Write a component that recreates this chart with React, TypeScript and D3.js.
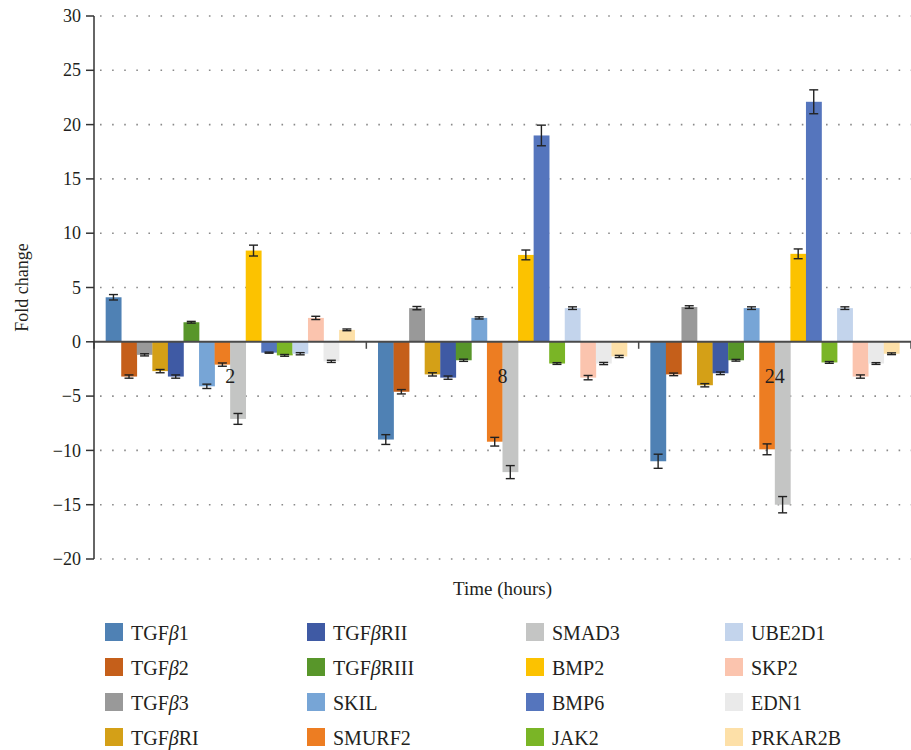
import React from "react";
import * as d3 from "d3";

const groups = ["2", "8", "24"];
const seriesNames = [
  "TGFβ1", "TGFβ2", "TGFβ3", "TGFβRI", "TGFβRII", "TGFβRIII", "SKIL", "SMURF2",
  "SMAD3", "BMP2", "BMP6", "JAK2", "UBE2D1", "SKP2", "EDN1", "PRKAR2B",
];
const seriesColors = [
  "#4f81b4", "#c55f1a", "#999999", "#d4a017", "#3f5aa4", "#58962a", "#77a5d6", "#ed7d22",
  "#c4c5c4", "#fcc200", "#5575bd", "#7ab526", "#c3d4ec", "#fbc4ae", "#eaeaea", "#fde0a8",
];
// values per series: [2h, 8h, 24h]
const values = [
  [4.1, -9.0, -11.0],
  [-3.2, -4.6, -3.0],
  [-1.2, 3.1, 3.2],
  [-2.7, -3.0, -4.0],
  [-3.2, -3.3, -2.9],
  [1.8, -1.7, -1.7],
  [-4.1, 2.2, 3.1],
  [-2.1, -9.2, -9.9],
  [-7.1, -12.0, -15.0],
  [8.4, 8.0, 8.1],
  [-1.0, 19.0, 22.1],
  [-1.25, -2.0, -1.9],
  [-1.1, 3.1, 3.1],
  [2.2, -3.3, -3.2],
  [-1.8, -2.0, -2.0],
  [1.1, -1.35, -1.1],
];
const errors = [
  [0.25, 0.45, 0.65],
  [0.15, 0.2, 0.12],
  [0.1, 0.15, 0.12],
  [0.15, 0.15, 0.15],
  [0.15, 0.15, 0.12],
  [0.08, 0.1, 0.08],
  [0.2, 0.1, 0.12],
  [0.15, 0.4, 0.5],
  [0.5, 0.6, 0.75],
  [0.5, 0.45, 0.45],
  [0.05, 0.95, 1.1],
  [0.08, 0.08, 0.08],
  [0.1, 0.12, 0.12],
  [0.15, 0.2, 0.15],
  [0.1, 0.1, 0.08],
  [0.08, 0.1, 0.08],
];
const yTicks = [-20, -15, -10, -5, 0, 5, 10, 15, 20, 25, 30];
const yLabel = "Fold change";
const xLabel = "Time (hours)";

const W = 911;
const H = 750;
const FONT = "'Liberation Serif', 'Times New Roman', serif";
const TEXT = "#231f20";

export default function App() {
  const left = 94;
  const right = 911;
  const top = 16;
  const bottom = 559;

  const y = d3.scaleLinear().domain([-20, 30]).range([bottom, top]);
  const x0 = d3.scaleBand<string>().domain(groups).range([left, right]).padding(0);
  const x1 = d3
    .scaleBand<string>()
    .domain(seriesNames)
    .range([0, x0.bandwidth()])
    .paddingInner(0)
    .paddingOuter(0.75);

  const y0 = y(0);
  const capW = 9;
  const legendCols = [105, 307, 526, 725];
  const legendRow0 = 623;
  const legendRowStep = 35;

  return (
    <svg
      width={W}
      height={H}
      style={{ position: "absolute", left: 0, top: 0, background: "#fff" }}
      fontFamily={FONT}
    >
      {/* grid */}
      {yTicks.map((t) =>
        t === 0 ? null : (
          <line
            key={"g" + t}
            x1={left + 6}
            x2={right}
            y1={y(t)}
            y2={y(t)}
            stroke="#8a8a8a"
            strokeWidth={1.6}
            strokeDasharray="1.6,10.5"
          />
        )
      )}
      {/* bars */}
      {groups.map((g, gi) =>
        seriesNames.map((s, si) => {
          const v = values[si][gi];
          const bx = (x0(g) as number) + (x1(s) as number);
          const bw = x1.bandwidth();
          return (
            <rect
              key={g + s}
              x={bx}
              width={bw + 0.3}
              y={Math.min(y(v), y0)}
              height={Math.abs(y(v) - y0)}
              fill={seriesColors[si]}
            />
          );
        })
      )}
      {/* zero line */}
      <line x1={left} x2={right} y1={y0} y2={y0} stroke="#4a4a4a" strokeWidth={2} />
      {/* x ticks at group boundaries */}
      {[...groups.map((g) => x0(g) as number), right].map((xv, i) => (
        <line key={"xt" + i} x1={xv} x2={xv} y1={y0} y2={y0 + 7} stroke="#4a4a4a" strokeWidth={1.5} />
      ))}
      {/* error bars */}
      {groups.map((g, gi) =>
        seriesNames.map((s, si) => {
          const v = values[si][gi];
          const e = errors[si][gi];
          const cx = (x0(g) as number) + (x1(s) as number) + x1.bandwidth() / 2;
          const ya = y(v + e);
          const yb = y(v - e);
          return (
            <g key={"e" + g + s} stroke="#222" strokeWidth={1.4}>
              <line x1={cx} x2={cx} y1={ya} y2={yb} />
              <line x1={cx - capW / 2} x2={cx + capW / 2} y1={ya} y2={ya} />
              <line x1={cx - capW / 2} x2={cx + capW / 2} y1={yb} y2={yb} />
            </g>
          );
        })
      )}
      {/* group labels */}
      {groups.map((g) => (
        <text
          key={"gl" + g}
          x={(x0(g) as number) + x0.bandwidth() / 2}
          y={383}
          textAnchor="middle"
          fontSize={20}
          fill={TEXT}
        >
          {g}
        </text>
      ))}
      {/* y axis */}
      <line x1={left} x2={left} y1={top} y2={bottom} stroke="#333" strokeWidth={1.5} />
      {yTicks.map((t) => (
        <g key={"yt" + t}>
          <line x1={left - 8} x2={left} y1={y(t)} y2={y(t)} stroke="#333" strokeWidth={1.5} />
          <text x={left - 13} y={y(t)} dy="0.34em" textAnchor="end" fontSize={18} fill={TEXT}>
            {t < 0 ? "\u2212" + Math.abs(t) : String(t)}
          </text>
        </g>
      ))}
      <text
        transform={`translate(28,${(top + bottom) / 2}) rotate(-90)`}
        textAnchor="middle"
        fontSize={18}
        fill={TEXT}
      >
        {yLabel}
      </text>
      <text x={(left + right) / 2} y={595} textAnchor="middle" fontSize={19} fill={TEXT}>
        {xLabel}
      </text>
      {/* legend */}
      {seriesNames.map((s, si) => {
        const col = Math.floor(si / 4);
        const row = si % 4;
        const lx = legendCols[col];
        const ly = legendRow0 + row * legendRowStep;
        return (
          <g key={"lg" + s}>
            <rect x={lx} y={ly} width={18} height={18} fill={seriesColors[si]} />
            <text x={lx + 26} y={ly + 17} fontSize={20} fill={TEXT}>
              {s.includes("β") ? (
                <>
                  {s.split("β")[0]}
                  <tspan fontStyle="italic">β</tspan>
                  {s.split("β")[1]}
                </>
              ) : (
                s
              )}
            </text>
          </g>
        );
      })}
    </svg>
  );
}
